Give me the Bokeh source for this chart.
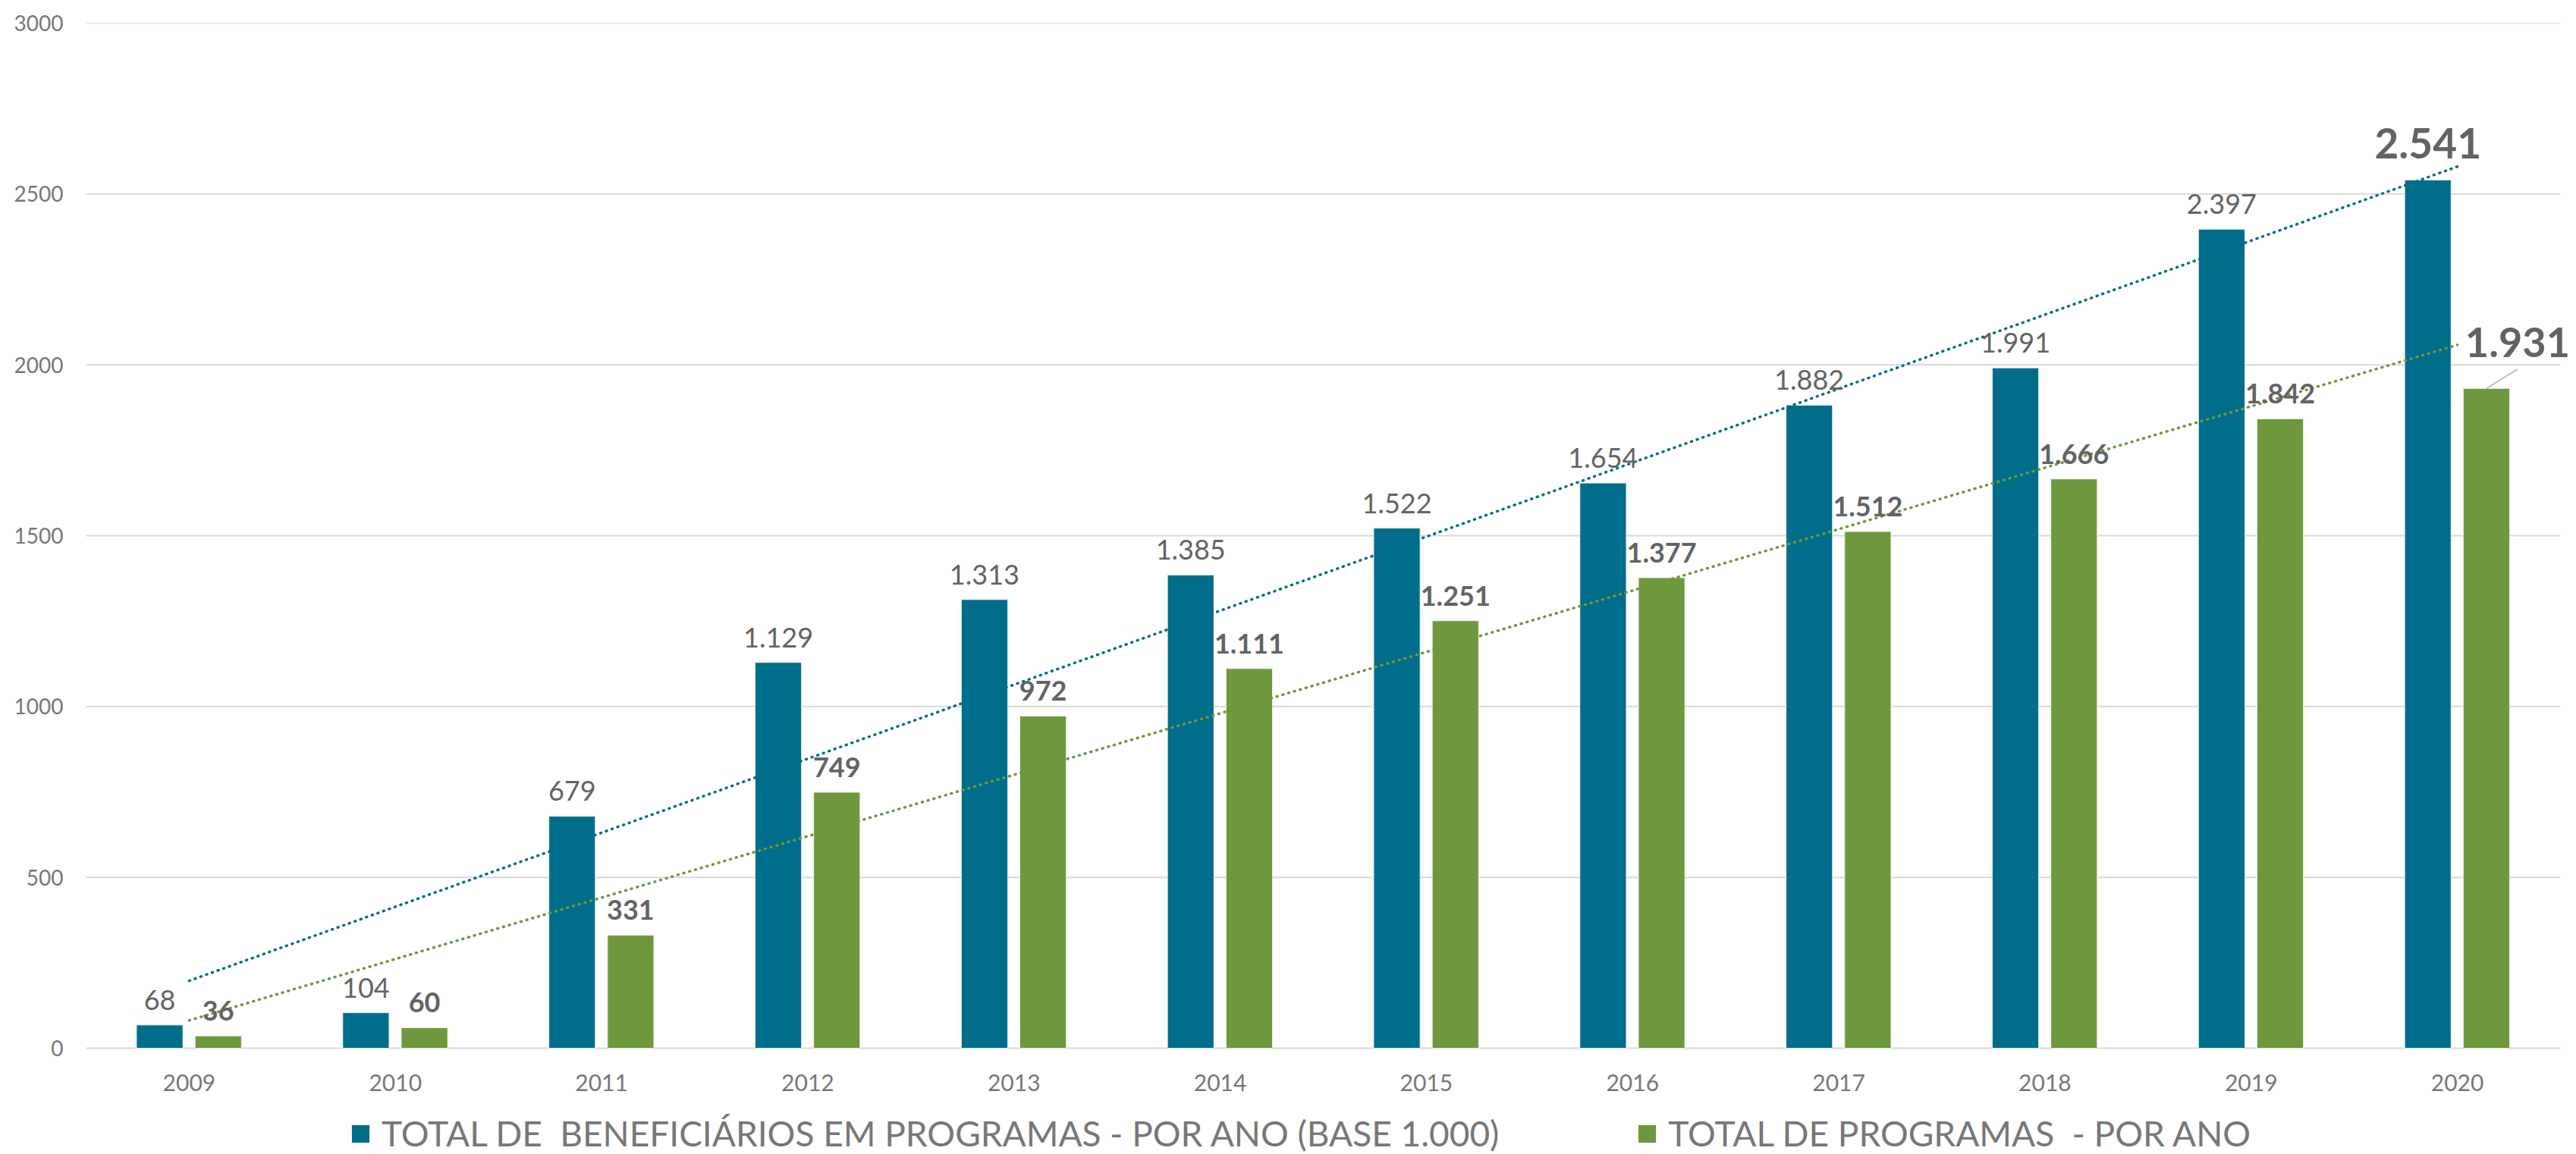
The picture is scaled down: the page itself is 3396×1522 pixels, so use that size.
import numpy as np
from bokeh.plotting import figure
from bokeh.models import Range1d, FixedTicker, Legend, LegendItem, ColumnDataSource
from bokeh.embed import file_html
from bokeh.resources import INLINE
from bokeh.core.properties import value

years = ["2009", "2010", "2011", "2012", "2013", "2014", "2015", "2016", "2017", "2018", "2019", "2020"]
beneficiarios = [68, 104, 679, 1129, 1313, 1385, 1522, 1654, 1882, 1991, 2397, 2541]
programas = [36, 60, 331, 749, 972, 1111, 1251, 1377, 1512, 1666, 1842, 1931]
y_ticks = [0, 500, 1000, 1500, 2000, 2500, 3000]
legend_labels = ["TOTAL DE  BENEFICIÁRIOS EM PROGRAMAS - POR ANO (BASE 1.000)",
                 "TOTAL DE PROGRAMAS  - POR ANO"]

BLUE = "#006D8A"
GREEN = "#6E983E"
LABEL = "#636363"
TICK = "#777777"
GRID = "#D9D9D9"
FONT = "Lato"

W, H = 3396, 1522
LEFT, TOP = 113, 30
ZERO_PX = 1382          # pixel row of the value axis zero line
PLOT_RIGHT = 3375       # where the category band area ends
Y_MAX = 3000


def fmt(v):
    return f"{v:,}".replace(",", ".")


idx = np.arange(len(years))
off_b, off_g, bw = -0.143, 0.141, 0.225

# frame reaches the canvas bottom/right so labels and legend are not clipped
px_per_unit = (ZERO_PX - TOP) / Y_MAX
y_start = -(H - ZERO_PX) / px_per_unit
cat_px = (PLOT_RIGHT - LEFT) / len(years)
x_lo, x_hi = -0.5, len(years) - 0.5
x_end = x_hi + (W - PLOT_RIGHT) / cat_px

src_b = ColumnDataSource(dict(x=idx + off_b, top=beneficiarios))
src_g = ColumnDataSource(dict(x=idx + off_g, top=programas))

p = figure(width=W, height=H, output_backend="svg", toolbar_location=None,
           x_range=Range1d(x_lo, x_end), y_range=Range1d(y_start, Y_MAX),
           min_border_left=LEFT, min_border_right=0, min_border_top=TOP, min_border_bottom=0)
p.outline_line_color = None
p.background_fill_color = "white"
p.border_fill_color = "white"

p.xgrid.grid_line_color = None
p.ygrid.grid_line_color = None
# horizontal gridlines spanning only the category area
p.segment(x0=[x_lo] * len(y_ticks), x1=[x_hi] * len(y_ticks), y0=y_ticks, y1=y_ticks,
          line_color=GRID, line_width=2, level="underlay")

p.yaxis.ticker = FixedTicker(ticks=y_ticks)
p.xaxis.ticker = FixedTicker(ticks=list(idx))
p.xaxis.major_label_overrides = {int(i): y for i, y in zip(idx, years)}
p.xaxis.fixed_location = 0
for ax in (p.xaxis, p.yaxis):
    ax.axis_line_color = None
    ax.major_tick_line_color = None
    ax.minor_tick_line_color = None
    ax.major_tick_out = 0
    ax.major_tick_in = 0
    ax.major_label_text_font = FONT
    ax.major_label_text_color = TICK
p.yaxis.major_label_text_font_size = "28px"
p.yaxis.major_label_standoff = 30
p.xaxis.major_label_text_font_size = "30px"
p.xaxis.major_label_standoff = 34

rb = p.vbar(x="x", top="top", width=bw, source=src_b, fill_color=BLUE, line_color="#E8F0F2", line_width=1)
rg = p.vbar(x="x", top="top", width=bw, source=src_g, fill_color=GREEN, line_color="#EEF3E8", line_width=1)

# linear trendlines (as Excel does) across category centers
for vals, col in ((beneficiarios, BLUE), (programas, GREEN)):
    k, b = np.polyfit(idx, vals, 1)
    xs = np.array([idx[0], idx[-1]], dtype=float)
    p.line(xs, k * xs + b, line_color=col, line_width=3.5, line_dash="1 7", line_cap="round")

# data labels (all but last)
lb = ColumnDataSource(dict(x=(idx + off_b)[:-1], y=beneficiarios[:-1], t=[fmt(v) for v in beneficiarios[:-1]]))
lg = ColumnDataSource(dict(x=(idx + off_g)[:-1], y=programas[:-1], t=[fmt(v) for v in programas[:-1]]))
p.text(x="x", y="y", text="t", source=lb, text_font=value(FONT), text_font_size="36px",
       text_color=LABEL, text_align="center", text_baseline="alphabetic", y_offset=-33)
p.text(x="x", y="y", text="t", source=lg, text_font=value(FONT), text_font_size="36px",
       text_font_style="bold", text_color=LABEL, text_align="center", text_baseline="alphabetic", y_offset=-33)

# highlighted last values
p.text(x=[idx[-1] + off_b], y=[beneficiarios[-1]], text=[fmt(beneficiarios[-1])], text_font=value(FONT),
       text_font_size="55px", text_font_style="bold", text_color=LABEL, text_align="center",
       text_baseline="alphabetic", y_offset=-48)
p.segment(x0=[idx[-1] + off_g], y0=[programas[-1]], x1=[idx[-1] + off_g + 0.15], y1=[programas[-1] + 56],
          line_color="#BFBFBF", line_width=2)
p.text(x=[idx[-1] + off_g], y=[programas[-1]], text=[fmt(programas[-1])], text_font=value(FONT),
       text_font_size="54px", text_font_style="bold", text_color=LABEL, text_align="center",
       text_baseline="alphabetic", x_offset=41, y_offset=-61)

legend = Legend(items=[LegendItem(label=legend_labels[0], renderers=[rb]),
                       LegendItem(label=legend_labels[1], renderers=[rg])],
                orientation="horizontal", location=(347, 0),
                glyph_width=30, glyph_height=30, label_standoff=13, spacing=180,
                label_text_font=FONT, label_text_font_size="46px", label_text_color=TICK,
                padding=0, margin=0, border_line_color=None, background_fill_alpha=0)
p.add_layout(legend, "center")

open("out.html", "w").write(file_html(p, INLINE))
